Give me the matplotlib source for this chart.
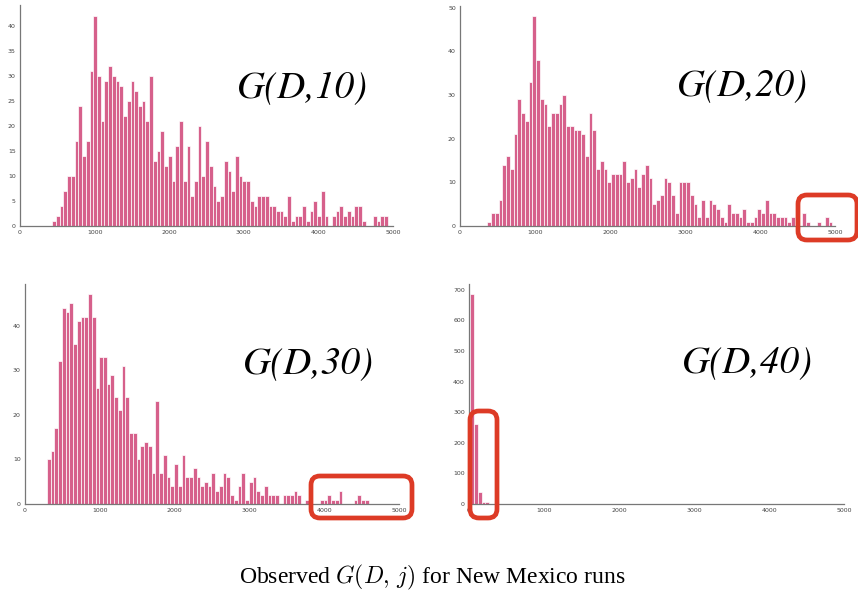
import matplotlib
matplotlib.use('Agg')
import matplotlib.pyplot as plt
from matplotlib.patches import FancyBboxPatch

plt.rcParams['mathtext.fontset'] = 'cm'

# histogram counts, bins are ~50 wide
counts_10 = [1, 2, 4, 7, 10, 10, 17, 24, 14, 17, 31, 42, 30, 21, 29, 32, 30, 29, 28, 22,
             25, 29, 27, 24, 25, 21, 30, 13, 15, 19, 12, 14, 9, 16, 21, 9, 16, 6, 9, 20,
             10, 17, 12, 8, 5, 6, 13, 11, 7, 14, 10, 9, 9, 5, 4, 6, 6, 6, 4, 4,
             3, 3, 2, 6, 1, 2, 2, 4, 1, 3, 5, 2, 7, 2, 0, 2, 3, 4, 2, 3,
             2, 4, 4, 1, 0, 0, 2, 1, 2, 2]
counts_20 = [1, 3, 3, 6, 14, 16, 13, 21, 29, 26, 24, 33, 48, 38, 29, 28, 23, 26, 26, 28,
             30, 23, 23, 22, 22, 21, 16, 26, 22, 13, 15, 13, 10, 12, 12, 12, 15, 10, 11, 13,
             9, 12, 14, 11, 5, 6, 7, 11, 10, 7, 3, 10, 10, 10, 7, 5, 2, 6, 2, 6,
             5, 4, 2, 1, 5, 3, 3, 2, 4, 1, 1, 2, 4, 3, 6, 3, 3, 2, 2, 2,
             1, 2, 0, 0, 3, 1, 0, 0, 1, 0, 2, 1]
counts_30 = [10, 12, 17, 32, 44, 43, 45, 36, 41, 42, 42, 47, 42, 26, 33, 33, 27, 29, 24, 21,
             31, 24, 16, 16, 10, 13, 14, 13, 7, 23, 7, 11, 6, 4, 9, 4, 11, 6, 6, 8,
             6, 4, 5, 4, 7, 3, 4, 7, 6, 2, 1, 4, 7, 1, 5, 6, 3, 2, 4, 2,
             2, 2, 0, 2, 2, 2, 3, 2, 0, 1, 1, 0, 0, 1, 1, 2, 1, 1, 3, 0,
             0, 0, 1, 2, 1, 1]
counts_40 = [685, 260, 40, 5, 5]

# left edge of the first bin of each run
starts = [432, 364, 293, 18]
bin_w = 50

labels = ['G(D,10)', 'G(D,20)', 'G(D,30)', 'G(D,40)']
x_ticks = [0, 1000, 2000, 3000, 4000, 5000]
y_ticks = [list(range(0, 41, 5)), list(range(0, 51, 10)),
           list(range(0, 41, 10)), list(range(0, 701, 100))]

bar_color = '#d6608b'

W, H = 858, 592
fig = plt.figure(figsize=(W / 100, H / 100), dpi=100)
fig.patch.set_facecolor('white')

# axes boxes in pixels: left, top, right, bottom
boxes = [(20, 5, 393, 226), (460, 6, 835, 226),
         (25, 284, 399, 504), (469, 284, 844, 504)]

all_counts = [counts_10, counts_20, counts_30, counts_40]
for i, (l, t, r, b) in enumerate(boxes):
    ax = fig.add_axes([l / W, (H - b) / H, (r - l) / W, (b - t) / H])
    cnt = all_counts[i]
    edges = [starts[i] + k * bin_w for k in range(len(cnt))]
    ax.bar(edges, cnt, width=bin_w, align='edge', color=bar_color,
           edgecolor='white', linewidth=0.5)
    ax.set_xlim(0, 5000)
    ax.set_ylim(0, max(cnt) * 1.05)
    ax.set_xticks(x_ticks)
    ax.set_yticks(y_ticks[i])
    ax.tick_params(length=0, labelsize=4.5, labelcolor='#444444', pad=3)
    for s in ['top', 'right']:
        ax.spines[s].set_visible(False)
    for s in ['left', 'bottom']:
        ax.spines[s].set_color('#777777')
        ax.spines[s].set_linewidth(0.9)
    ax.set_facecolor('white')

# overlay in pixel coordinates for labels, red boxes and caption
ov = fig.add_axes([0, 0, 1, 1])
ov.set_xlim(0, W)
ov.set_ylim(H, 0)
ov.axis('off')
ov.patch.set_alpha(0)

label_pos = [(302, 88), (742, 86), (308, 364), (747, 363)]
for (x, y), lab in zip(label_pos, labels):
    ov.text(x, y, lab, fontsize=28, family='STIXGeneral', style='italic',
            ha='center', va='center')

red_boxes = [(798, 195, 857, 240), (311, 476, 412, 518), (470, 411, 497, 518)]
for (x0, y0, x1, y1) in red_boxes:
    ov.add_patch(FancyBboxPatch((x0, y0), x1 - x0, y1 - y0,
                                boxstyle='round,pad=0,rounding_size=9',
                                fill=False, edgecolor='#dd3b26', linewidth=3.4,
                                clip_on=False))

ov.text(432, 577, r'Observed $G(D,\,j)$ for New Mexico runs', fontsize=17,
        family=['Liberation Serif', 'DejaVu Serif'], ha='center', va='center')

fig.savefig('out.png', dpi=100, facecolor='white')
